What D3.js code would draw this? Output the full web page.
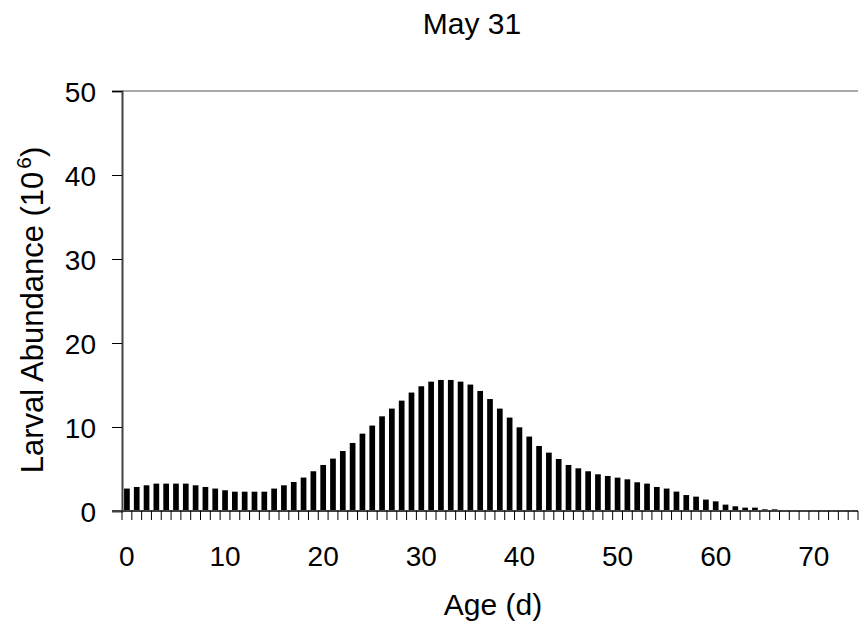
<!DOCTYPE html>
<html>
<head>
<meta charset="utf-8">
<script src="https://cdn.jsdelivr.net/npm/d3@7"></script>
<style>
  body { margin: 0; background: #fff; }
  svg text { font-family: "Liberation Sans", Arial, sans-serif; fill: #000; }
</style>
</head>
<body>
<div id="chart"></div>
<script>
// larval abundance (10^6) by age in days
var ages = d3.range(0, 75);
var abundance = [
  2.67, 2.86, 3.06, 3.26, 3.26, 3.26, 3.26, 3.06, 2.86, 2.67,
  2.47, 2.3, 2.3, 2.3, 2.3, 2.67, 3.06, 3.45, 3.98, 4.73,
  5.48, 6.24, 7.14, 8.1, 9.21, 10.17, 11.27, 12.19, 13.14, 14.1,
  14.85, 15.4, 15.6, 15.6, 15.4, 15.05, 14.29, 13.33, 12.19, 11.12,
  9.96, 8.86, 7.74, 6.95, 6.19, 5.48, 5.08, 4.73, 4.37, 4.17,
  3.97, 3.77, 3.42, 3.26, 2.86, 2.67, 2.31, 1.9, 1.71, 1.36,
  1.15, 0.76, 0.56, 0.4, 0.4, 0.2, 0.2, 0, 0, 0,
  0, 0, 0, 0, 0
];
var yTicks = [0, 10, 20, 30, 40, 50];
var xLabels = [0, 10, 20, 30, 40, 50, 60, 70];

var width = 861, height = 627;
var mLeft = 122, mRight = 858, mTop = 91, mBottom = 511;
var fs = 28;

var svg = d3.select('#chart').append('svg')
  .attr('width', width)
  .attr('height', height);

var x = d3.scaleBand().domain(ages).range([mLeft, mRight]).paddingInner(0.42).paddingOuter(0.21);
var xEdge = d3.scaleBand().domain(ages).range([mLeft, mRight]); // tick marks sit on band edges
var y = d3.scaleLinear().domain([0, 50]).range([mBottom, mTop]);

// top frame line
svg.append('line')
  .attr('x1', mLeft).attr('x2', mRight)
  .attr('y1', y(50)).attr('y2', y(50))
  .attr('stroke', '#8c8c8c').attr('stroke-width', 1.5);

// bars
svg.append('g').selectAll('rect')
  .data(ages)
  .enter().append('rect')
  .attr('x', d => x(d))
  .attr('width', x.bandwidth())
  .attr('y', d => y(abundance[d]))
  .attr('height', d => y(0) - y(abundance[d]))
  .attr('fill', '#000');

// y axis
var yAxis = svg.append('g')
  .attr('transform', 'translate(' + mLeft + ',0)')
  .call(d3.axisLeft(y).tickValues(yTicks).tickSize(10).tickPadding(16));
yAxis.select('.domain').attr('stroke', '#404040').attr('stroke-width', 2);
yAxis.selectAll('.tick line').attr('stroke', '#000');
yAxis.selectAll('text').attr('font-size', fs).attr('font-family', null).attr('dy', '0.36em');

// x axis: ticks at every band edge, labels every 10 days
var edges = ages.map(d => xEdge(d)).concat([mRight]);
svg.append('line')
  .attr('x1', mLeft - 10).attr('x2', mRight)
  .attr('y1', mBottom).attr('y2', mBottom)
  .attr('stroke', '#404040').attr('stroke-width', 2);
svg.append('g').selectAll('line')
  .data(edges)
  .enter().append('line')
  .attr('x1', d => d).attr('x2', d => d)
  .attr('y1', mBottom).attr('y2', mBottom + 9)
  .attr('stroke', '#000').attr('stroke-width', 1);
svg.append('g').selectAll('text')
  .data(xLabels)
  .enter().append('text')
  .attr('x', d => x(d) + x.bandwidth() / 2)
  .attr('y', 566)
  .attr('text-anchor', 'middle')
  .attr('font-size', fs)
  .text(d => d);

// titles
svg.append('text')
  .attr('x', 472).attr('y', 34)
  .attr('text-anchor', 'middle')
  .attr('font-size', 30)
  .text('May 31');

svg.append('text')
  .attr('x', 493).attr('y', 615)
  .attr('text-anchor', 'middle')
  .attr('font-size', 30)
  .text('Age (d)');

var yl = svg.append('text')
  .attr('transform', 'translate(43,310) rotate(-90)')
  .attr('text-anchor', 'middle')
  .attr('font-size', 31);
yl.append('tspan').text('Larval Abundance (10');
yl.append('tspan').attr('font-size', 21).attr('dx', 3).attr('dy', -12).text('6');
yl.append('tspan').attr('dy', 12).text(')');
</script>
</body>
</html>
